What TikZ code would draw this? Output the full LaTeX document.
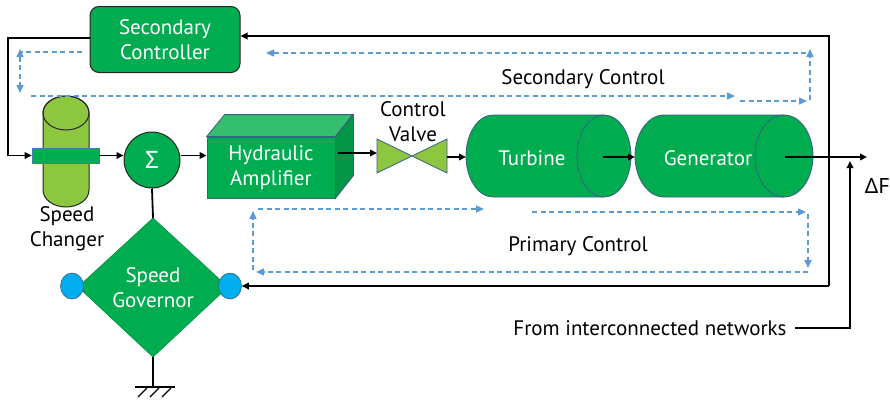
\documentclass[tikz,border=0pt]{standalone}
\usepackage{fontspec}
\setmainfont{PT Sans}
\newfontfamily\grk{Noto Sans}
\usetikzlibrary{arrows.meta,shapes.geometric}
\definecolor{blockgreen}{RGB}{0,172,80}
\definecolor{lightgreen}{RGB}{141,198,63}
\definecolor{topgreen}{RGB}{52,190,112}
\definecolor{sidegreen}{RGB}{0,150,70}
\definecolor{edgeblue}{RGB}{60,95,130}
\definecolor{dashblue}{RGB}{91,155,213}
\definecolor{knobblue}{RGB}{0,174,239}
\tikzset{
  txt/.style={font=\fontsize{21}{25}\selectfont, align=center, inner sep=0pt},
  wtxt/.style={txt, text=white},
  sig/.style={-{Triangle[length=7pt,width=6.5pt]}, line width=1.8pt, black},
  wire/.style={line width=1.8pt, black},
  bdash/.style={dashblue, line width=1.4pt, dash pattern=on 5pt off 3.5pt},
  btip/.style={bdash, -{Triangle[length=8pt,width=7pt]}},
  btiptwo/.style={bdash, {Triangle[length=8pt,width=7pt]}-{Triangle[length=8pt,width=7pt]}},
  greenbody/.style={fill=blockgreen, draw=edgeblue, line width=0.8pt},
}
\begin{document}
\begin{tikzpicture}[x=1pt,y=-1pt]
\useasboundingbox[fill=white] (0,0) rectangle (890,400);

% ---- Secondary controller
\node[wtxt, fill=blockgreen, draw=black!85, line width=1pt, rounded corners=9pt,
      minimum width=150pt, minimum height=66pt] (sc) at (165,39.5) {Secondary\\Controller};

% ---- Speed changer (vertical cylinder with band)
\draw[fill=lightgreen, draw=black!85, line width=1pt]
  (43,113) -- (43,190) arc[start angle=180, end angle=0, x radius=23, y radius=17]
  -- (89,113) arc[start angle=0, end angle=-180, x radius=23, y radius=17] -- cycle;
\draw[draw=black!85, line width=1pt] (66,113) ellipse[x radius=23, y radius=17];
\node[fill=blockgreen, draw=dashblue!80!black, line width=0.6pt, minimum width=67pt,
      minimum height=15pt, inner sep=0pt] (band) at (65.5,155.5) {};
\draw[dashblue!80!black, line width=0.6pt] (43,148) -- (43,163) (89,148) -- (89,163);
\node[txt] (scl) at (67,229) {Speed\\Changer};

% ---- Summing junction
\node[circle, fill=blockgreen, draw=black!85, line width=1pt, minimum size=56pt,
      inner sep=0pt, text=white, font=\fontsize{24}{26}\grk] (sum) at (152,160) {Σ};

% ---- Hydraulic amplifier (box)
\node[wtxt, fill=blockgreen, draw=edgeblue, line width=0.8pt, minimum width=128pt,
      minimum height=61pt] (amp) at (271,167.5) {Hydraulic\\Amplifier};
\draw[fill=topgreen, draw=edgeblue, line width=0.8pt]
  (amp.north west) -- ++(18,-22) -- ++(128,0) -- (amp.north east) -- cycle;
\draw[fill=sidegreen, draw=edgeblue, line width=0.8pt]
  (amp.north east) -- ++(18,-22) -- ++(0,61) -- (amp.south east) -- cycle;

% ---- Control valve
\coordinate (vc) at (412,156);
\draw[fill=lightgreen, draw=edgeblue, line width=0.8pt]
  (377,139) -- (vc) -- (377,173) -- cycle (447,139) -- (vc) -- (447,173) -- cycle;
\coordinate (vw) at (377,153);
\coordinate (ve) at (447,157);
\node[txt] (cvl) at (413,122) {Control\\Valve};

% ---- Turbine
\draw[greenbody]
  (604,115) -- (493,115) arc[start angle=270, end angle=90, x radius=27, y radius=41]
  -- (604,197) arc[start angle=90, end angle=-90, x radius=27, y radius=41] -- cycle;
\draw[edgeblue, line width=0.8pt] (604,197) arc[start angle=90, end angle=270, x radius=27, y radius=41];
\node[wtxt] (tur) at (532,158) {Turbine};
\coordinate (turw) at (466,157);
\coordinate (turo) at (603,157);

% ---- Generator
\draw[greenbody]
  (784,115) -- (664,115) arc[start angle=270, end angle=90, x radius=29, y radius=41]
  -- (784,197) arc[start angle=90, end angle=-90, x radius=29, y radius=41] -- cycle;
\draw[edgeblue, line width=0.8pt] (784,197) arc[start angle=90, end angle=270, x radius=29, y radius=41];
\node[wtxt] (gen) at (708,158) {Generator};
\coordinate (genw) at (635,157);
\coordinate (geno) at (785,157);
\coordinate (df) at (867,157);

% ---- Speed governor
\coordinate (govtop) at (153,218);
\coordinate (govbot) at (153,357);
\draw[fill=blockgreen, draw=blockgreen!85!black, line width=0.6pt]
  (govtop) -- (228,287) -- (govbot) -- (78,287) -- cycle;
\node[wtxt] (gov) at (153,288) {Speed\\Governor};
\node[ellipse, fill=knobblue, draw=edgeblue, line width=0.6pt, minimum width=23pt,
      minimum height=26pt, inner sep=0pt] (kl) at (72,286) {};
\node[ellipse, fill=knobblue, draw=edgeblue, line width=0.6pt, minimum width=23pt,
      minimum height=26pt, inner sep=0pt] (kr) at (230,286) {};

% ---- Ground
\coordinate (gnd) at (153,387);
\draw[wire] (govbot) -- (gnd);
\draw[wire] (135,387) -- (175,387);
\foreach \gx in {147,159,171} \draw[line width=1.3pt] (\gx,388) -- ++(-9,9);

% ---- Signal path
\coordinate (fbl) at (8,38);
\draw[sig] (sc.west |- fbl) -- (fbl) |- (band.west);
\draw[sig] (band.east) -- (sum.west |- band.east);
\draw[sig] (sum.east |- band.east) -- (amp.west |- band.east);
\draw[sig] (338,153) -- (vw);
\draw[sig] (ve) -- (turw);
\draw[sig] (turo) -- (genw);
\draw[sig] (geno) -- (df);
\draw[wire] (sum.south) -- (govtop);

% ---- Frequency feedback loop
\coordinate (ftop) at (829,36);
\coordinate (fbot) at (829,286);
\draw[sig] (fbot) -- (ftop) -- (sc.east |- ftop);
\draw[sig] (fbot) -- (kr.east);

% ---- Tie-line input
\node[txt] (net) at (650,328) {From interconnected networks};
\coordinate (tie) at (850,328);
\draw[sig] (net.east) ++(8,0) -- (tie) -- (850,161);
\node[txt, font=\fontsize{21}{24}\grk] (dlt) at (877,186) {ΔF};

% ---- Secondary control loop
\coordinate (s1) at (82,52);
\coordinate (s2) at (20,52);
\draw[bdash] (s1) -- (s2);
\draw[btiptwo] (20,49) -- (20,93);
\draw[btip] (31,96) -- (735,96);
\draw[btip] (740,101) -- (807,101);
\draw[btip] (810,100) -- (810,49);
\draw[btip] (806,53) -- (266,53);
\node[txt] (secl) at (583,79) {Secondary Control};

% ---- Primary control loop
\draw[btip] (258,209) -- (484,209);
\draw[btip] (532,212) -- (806,212);
\draw[btip] (808,214) -- (808,268);
\draw[btip] (808,272) -- (256,272);
\draw[btip] (253,270) -- (253,211);
\node[txt] (prl) at (578,246) {Primary Control};
\end{tikzpicture}
\end{document}
